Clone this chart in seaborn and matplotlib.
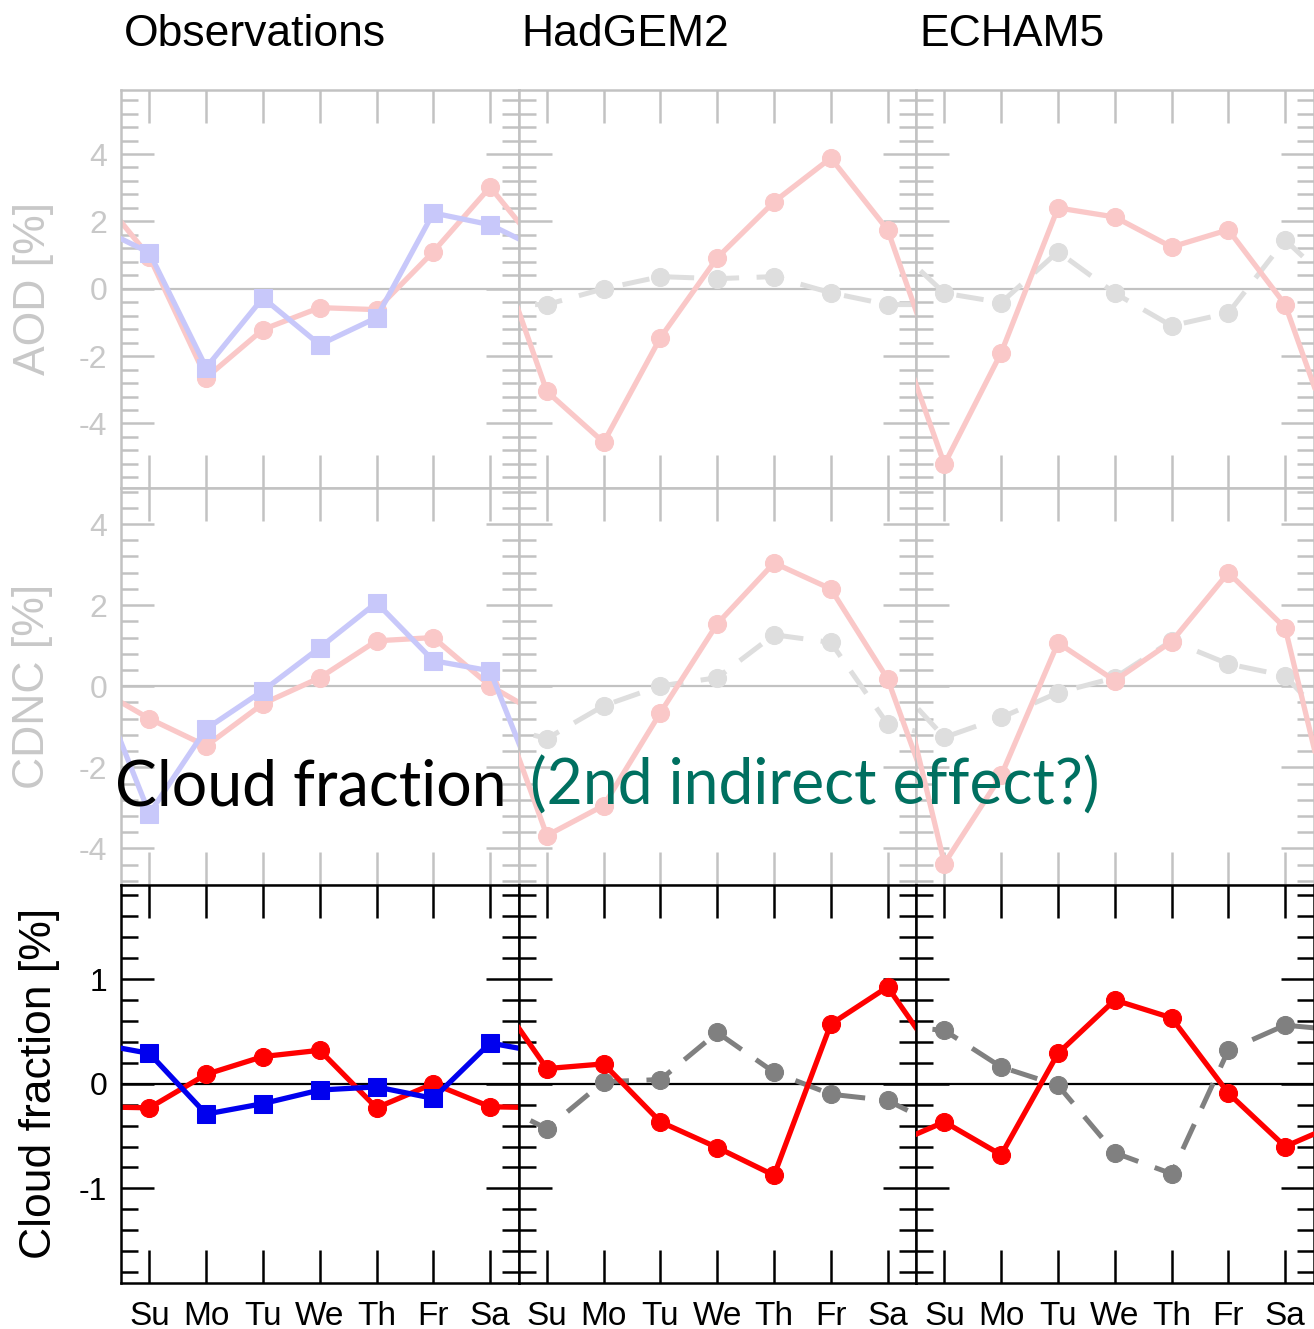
import numpy as np
import pandas as pd
import matplotlib
matplotlib.use("Agg")
import matplotlib.pyplot as plt
from matplotlib.ticker import MultipleLocator
import seaborn as sns

# ---------------- data ----------------
days = ["Su", "Mo", "Tu", "We", "Th", "Fr", "Sa"]
titles = ["Observations", "HadGEM2", "ECHAM5"]
row_labels = ["AOD [%]", "CDNC [%]", "Cloud fraction [%]"]

# AOD anomalies [%]
aod_obs_red = [0.95, -2.64, -1.21, -0.56, -0.62, 1.10, 3.02]
aod_obs_blue = [1.07, -2.34, -0.27, -1.66, -0.86, 2.25, 1.90]
aod_had_red = [-3.05, -4.56, -1.45, 0.92, 2.58, 3.88, 1.75]
aod_had_gray = [-0.47, 0.00, 0.36, 0.30, 0.36, -0.12, -0.47]
aod_ech_red = [-5.21, -1.90, 2.40, 2.13, 1.24, 1.75, -0.47]
aod_ech_gray = [-0.13, -0.41, 1.10, -0.13, -1.10, -0.72, 1.45]

# CDNC anomalies [%]
cdnc_obs_red = [-0.80, -1.47, -0.43, 0.21, 1.12, 1.20, 0.01]
cdnc_obs_blue = [-3.14, -1.05, -0.11, 0.95, 2.06, 0.63, 0.38]
cdnc_had_red = [-3.68, -2.94, -0.65, 1.54, 3.04, 2.40, 0.18]
cdnc_had_gray = [-1.29, -0.48, 0.01, 0.21, 1.27, 1.08, -0.93]
cdnc_ech_red = [-4.37, -2.20, 1.07, 0.14, 1.10, 2.80, 1.44]
cdnc_ech_gray = [-1.26, -0.77, -0.16, 0.21, 1.12, 0.55, 0.26]

# Cloud fraction anomalies [%]
cf_obs_red = [-0.23, 0.09, 0.26, 0.32, -0.23, 0.00, -0.22]
cf_obs_blue = [0.29, -0.29, -0.19, -0.06, -0.03, -0.14, 0.39]
cf_had_red = [0.145, 0.19, -0.365, -0.61, -0.875, 0.57, 0.925]
cf_had_gray = [-0.43, 0.02, 0.04, 0.49, 0.11, -0.10, -0.16]
cf_ech_red = [-0.365, -0.68, 0.29, 0.80, 0.63, -0.09, -0.60]
cf_ech_gray = [0.51, 0.16, -0.015, -0.66, -0.86, 0.32, 0.56]

overlay_black = "Cloud fraction"
overlay_teal = "(2nd indirect effect?)"

# ---------------- style ----------------
sns.set_theme(style="white")
plt.rcParams["font.family"] = ["Liberation Sans", "DejaVu Sans"]
plt.rcParams["axes.unicode_minus"] = False

W, H = 1314, 1329
fig = plt.figure(figsize=(W / 100, H / 100), dpi=100)

col_left = [121, 518.5, 916]
row_top = [90, 487.5, 885]
pw, ph = 397.5, 397.5

faded = dict(frame="#c2c2c2", text="#c8c8c8", red="#fac8c8", blue="#c8c8fa", gray="#dedede")
strong = dict(frame="#000000", text="#000000", red="#ff0000", blue="#0000ee", gray="#808080")

rows = [
    dict(data=[(aod_obs_red, aod_obs_blue), (aod_had_red, aod_had_gray), (aod_ech_red, aod_ech_gray)],
         ylim=5.9, major=2, minor=0.4, pal=faded),
    dict(data=[(cdnc_obs_red, cdnc_obs_blue), (cdnc_had_red, cdnc_had_gray), (cdnc_ech_red, cdnc_ech_gray)],
         ylim=4.9, major=2, minor=0.4, pal=faded),
    dict(data=[(cf_obs_red, cf_obs_blue), (cf_had_red, cf_had_gray), (cf_ech_red, cf_ech_gray)],
         ylim=1.9, major=1, minor=0.2, pal=strong),
]


def cyclic(vals):
    x = [-1] + list(range(len(vals))) + [len(vals)]
    y = [vals[-1]] + list(vals) + [vals[0]]
    return pd.DataFrame({"pos": x, "val": y})


for r, row in enumerate(rows):
    pal = row["pal"]
    for c in range(3):
        ax = fig.add_axes([col_left[c] / W, 1 - (row_top[r] + ph) / H, pw / W, ph / H])
        ax.set_facecolor("white")
        red_vals, second_vals = row["data"][c]
        ax.axhline(0, color=pal["frame"], lw=1.6, zorder=1)
        if c == 0:
            sns.lineplot(data=cyclic(second_vals), x="pos", y="val", ax=ax, sort=False,
                         errorbar=None, color=pal["blue"], lw=3.8, marker="s", markersize=12.5,
                         markeredgecolor=pal["blue"], legend=False, zorder=3)
            sns.lineplot(data=cyclic(red_vals), x="pos", y="val", ax=ax, sort=False,
                         errorbar=None, color=pal["red"], lw=3.8, marker="o", markersize=13,
                         markeredgecolor=pal["red"], legend=False, zorder=2)
        else:
            sns.lineplot(data=cyclic(second_vals), x="pos", y="val", ax=ax, sort=False,
                         errorbar=None, color=pal["gray"], lw=3.6, marker="o", markersize=13,
                         markeredgecolor=pal["gray"], linestyle=(0, (5.5, 3.5)), legend=False, zorder=2)
            sns.lineplot(data=cyclic(red_vals), x="pos", y="val", ax=ax, sort=False,
                         errorbar=None, color=pal["red"], lw=3.8, marker="o", markersize=13,
                         markeredgecolor=pal["red"], legend=False, zorder=3)
        ax.set_xlim(-0.5, 6.5)
        ax.set_ylim(-row["ylim"], row["ylim"])
        ax.set_xticks(range(7))
        ax.yaxis.set_major_locator(MultipleLocator(row["major"]))
        ax.yaxis.set_minor_locator(MultipleLocator(row["minor"]))
        ax.tick_params(which="both", direction="in", top=True, bottom=True, left=True, right=True,
                       color=pal["frame"], width=1.8, labelcolor=pal["text"], labelsize=23)
        ax.tick_params(which="major", length=24, pad=10)
        ax.tick_params(which="minor", length=12)
        ax.tick_params(axis="x", which="major", pad=13, labelsize=24)
        if r == 2:
            ax.set_xticklabels(days)
        else:
            ax.set_xticklabels([])
        if c != 0:
            ax.set_yticklabels([])
        ax.set_xlabel("")
        ax.set_ylabel("")
        for s in ax.spines.values():
            s.set_color(pal["frame"])
            s.set_linewidth(1.8)
            s.set_visible(True)
        if c == 0:
            xlab = 33 if r < 2 else 40
            fig.text(xlab / W, 1 - (row_top[r] + ph / 2) / H, row_labels[r], rotation=90,
                     ha="center", va="center", fontsize=32, color=pal["text"])

for c in range(3):
    fig.text((col_left[c] + 3) / W, 1 - 46 / H, titles[c], ha="left", va="baseline",
             fontsize=32, color="black")

fig.text(115 / W, 1 - 805 / H, overlay_black, ha="left", va="baseline", fontsize=45,
         color="black", family=["Lato", "DejaVu Sans"], fontweight="normal")
fig.text(530 / W, 1 - 805 / H, overlay_teal, ha="left", va="baseline", fontsize=45,
         color="#007060", family=["Lato", "DejaVu Sans"], fontweight="normal")

fig.savefig("out.png", dpi=100)
